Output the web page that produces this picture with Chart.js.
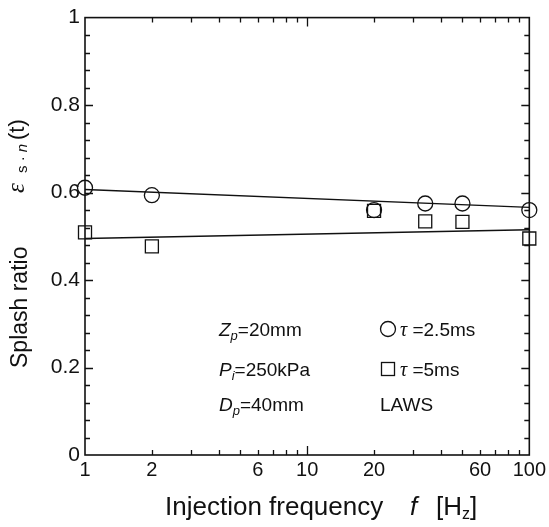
<!DOCTYPE html>
<html>
<head>
<meta charset="utf-8">
<script src="https://cdn.jsdelivr.net/npm/chart.js@4.4.1/dist/chart.umd.min.js"></script>
<style>
html,body{margin:0;padding:0;background:#fff;}
canvas{display:block;}
</style>
</head>
<body>
<canvas id="c" width="549" height="527"></canvas>
<script>
// ---- data ----
const freqs = [1, 2, 20, 34, 50, 100];
const ratioTau25 = [0.611, 0.594, 0.560, 0.575, 0.575, 0.560];
const ratioTau5 = [0.509, 0.477, 0.558, 0.534, 0.533, 0.495];
const fitFreqs = [1, 100];
const fitTau25 = [0.607, 0.566];
const fitTau5 = [0.495, 0.515];
const xTickLabels = [1, 2, 6, 10, 20, 60, 100];
const yTickLabels = [0, 0.2, 0.4, 0.6, 0.8, 1];
const xMinorTicks = [2, 3, 4, 5, 6, 7, 8, 9, 10, 20, 30, 40, 50, 60, 70, 80, 90];

const SANS = "'Liberation Sans', Arial, Helvetica, sans-serif";
const SERIF = "'Liberation Serif', 'DejaVu Serif', serif";
const INK = '#111';

const toXY = (xs, ys) => xs.map((x, i) => ({x: x, y: ys[i]}));

function drawRun(ctx, segs, x, y) {
  let cx = x;
  for (const s of segs) {
    ctx.font = s.f;
    ctx.fillText(s.t, cx, y + (s.dy || 0));
    cx += ctx.measureText(s.t).width + (s.gap || 0);
  }
}

const decor = {
  id: 'decor',
  afterDraw(chart) {
    const ctx = chart.ctx;
    const a = chart.chartArea;
    const xs = chart.scales.x, ys = chart.scales.y;
    ctx.save();
    ctx.strokeStyle = INK;
    ctx.fillStyle = INK;
    // frame
    ctx.lineWidth = 1.6;
    ctx.strokeRect(a.left, a.top, a.right - a.left, a.bottom - a.top);
    // x ticks (inward, top & bottom)
    ctx.lineWidth = 1.3;
    ctx.beginPath();
    for (const v of xMinorTicks) {
      const px = Math.round(xs.getPixelForValue(v)) + 0.5;
      const len = v === 10 ? 9 : 5;
      ctx.moveTo(px, a.bottom); ctx.lineTo(px, a.bottom - len);
      ctx.moveTo(px, a.top); ctx.lineTo(px, a.top + len);
    }
    // y ticks every 0.04, longer at labelled values
    for (let i = 1; i < 25; i++) {
      const v = i * 0.04;
      const py = Math.round(ys.getPixelForValue(v)) + 0.5;
      const len = (i % 5 === 0) ? 8 : 5;
      ctx.moveTo(a.left, py); ctx.lineTo(a.left + len, py);
      ctx.moveTo(a.right, py); ctx.lineTo(a.right - len, py);
    }
    ctx.stroke();

    // y-axis title (rotated)
    ctx.save();
    ctx.translate(27, 368);
    ctx.rotate(-Math.PI / 2);
    ctx.textAlign = 'left';
    ctx.textBaseline = 'alphabetic';
    ctx.font = '23px ' + SANS;
    ctx.fillText('Splash ratio', 0, 0);
    ctx.restore();

    ctx.save();
    ctx.translate(24, 193);
    ctx.rotate(-Math.PI / 2);
    ctx.font = 'italic 25px ' + SERIF;
    ctx.fillText('ε', 0, 0);
    ctx.translate(20, 0);
    drawRun(ctx, [
      {t: 's · ', f: '15px ' + SANS, dy: 3},
      {t: 'n', f: 'italic 15px ' + SANS, dy: 3}
    ], 0, 0);
    ctx.translate(33, 0);
    ctx.font = '22px ' + SANS;
    ctx.fillText('(t)', 0, 0);
    ctx.restore();

    // x-axis title
    ctx.textAlign = 'left';
    ctx.textBaseline = 'alphabetic';
    ctx.font = '26px ' + SANS;
    ctx.fillText('Injection frequency', 165, 515);
    ctx.font = 'italic 26px ' + SANS;
    ctx.fillText('f', 410, 515);
    drawRun(ctx, [
      {t: '[H', f: '26px ' + SANS},
      {t: 'z', f: '16px ' + SANS, dy: 4},
      {t: ']', f: '26px ' + SANS}
    ], 436, 515);

    // annotations
    const sub = 'italic 13px ' + SANS;
    drawRun(ctx, [
      {t: 'Z', f: 'italic 19px ' + SANS},
      {t: 'p', f: sub, dy: 4},
      {t: '=20mm', f: '19px ' + SANS}
    ], 219, 336);
    drawRun(ctx, [
      {t: 'P', f: 'italic 19px ' + SANS},
      {t: 'i', f: sub, dy: 4},
      {t: '=250kPa', f: '19px ' + SANS}
    ], 219, 376);
    drawRun(ctx, [
      {t: 'D', f: 'italic 19px ' + SANS},
      {t: 'p', f: sub, dy: 4},
      {t: '=40mm', f: '19px ' + SANS}
    ], 219, 411);

    // legend glyphs
    ctx.lineWidth = 1.3;
    ctx.beginPath();
    ctx.arc(388, 329, 7.5, 0, Math.PI * 2);
    ctx.stroke();
    ctx.strokeRect(381.5, 362.5, 13, 13);
    drawRun(ctx, [
      {t: 'τ', f: 'italic 20px ' + SERIF},
      {t: ' =2.5ms', f: '19px ' + SANS}
    ], 400, 336);
    drawRun(ctx, [
      {t: 'τ', f: 'italic 20px ' + SERIF},
      {t: ' =5ms', f: '19px ' + SANS}
    ], 400, 376);
    ctx.font = '19px ' + SANS;
    ctx.fillText('LAWS', 380, 411);
    ctx.restore();
  }
};

new Chart(document.getElementById('c'), {
  type: 'scatter',
  data: {
    datasets: [
      {
        label: 'fit τ=2.5ms',
        data: toXY(fitFreqs, fitTau25),
        showLine: true, pointRadius: 0, borderColor: INK, borderWidth: 1.3, fill: false
      },
      {
        label: 'fit τ=5ms',
        data: toXY(fitFreqs, fitTau5),
        showLine: true, pointRadius: 0, borderColor: INK, borderWidth: 1.3, fill: false
      },
      {
        label: 'τ=2.5ms',
        data: toXY(freqs, ratioTau25),
        clip: false,
        pointStyle: 'circle', pointRadius: 7.5, borderWidth: 1.3,
        borderColor: INK, backgroundColor: 'rgba(255,255,255,0)'
      },
      {
        label: 'τ=5ms',
        data: toXY(freqs, ratioTau5),
        clip: false,
        pointStyle: 'rect', pointRadius: 9.2, borderWidth: 1.3,
        borderColor: INK, backgroundColor: 'rgba(255,255,255,0)'
      }
    ]
  },
  options: {
    responsive: false,
    animation: false,
    layout: {padding: {top: 13, right: 19, left: 0, bottom: 0}},
    plugins: {legend: {display: false}, tooltip: {enabled: false}},
    scales: {
      x: {
        type: 'logarithmic', min: 1, max: 100, position: 'bottom',
        grid: {display: false, drawTicks: false},
        border: {display: false},
        afterBuildTicks: s => { s.ticks = xTickLabels.map(v => ({value: v})); },
        afterFit: s => { s.height = 72; },
        ticks: {
          autoSkip: false, maxRotation: 0, padding: 3, color: INK,
          font: {family: SANS, size: 20},
          callback: v => xTickLabels.includes(v) ? String(v) : ''
        }
      },
      y: {
        min: 0, max: 1,
        grid: {display: false, drawTicks: false},
        border: {display: false},
        afterBuildTicks: s => { s.ticks = yTickLabels.map(v => ({value: v})); },
        afterFit: s => { s.width = 85; },
        ticks: {
          padding: 5, color: INK,
          font: {family: SANS, size: 21},
          callback: v => String(v)
        }
      }
    }
  },
  plugins: [decor]
});
</script>
</body>
</html>
